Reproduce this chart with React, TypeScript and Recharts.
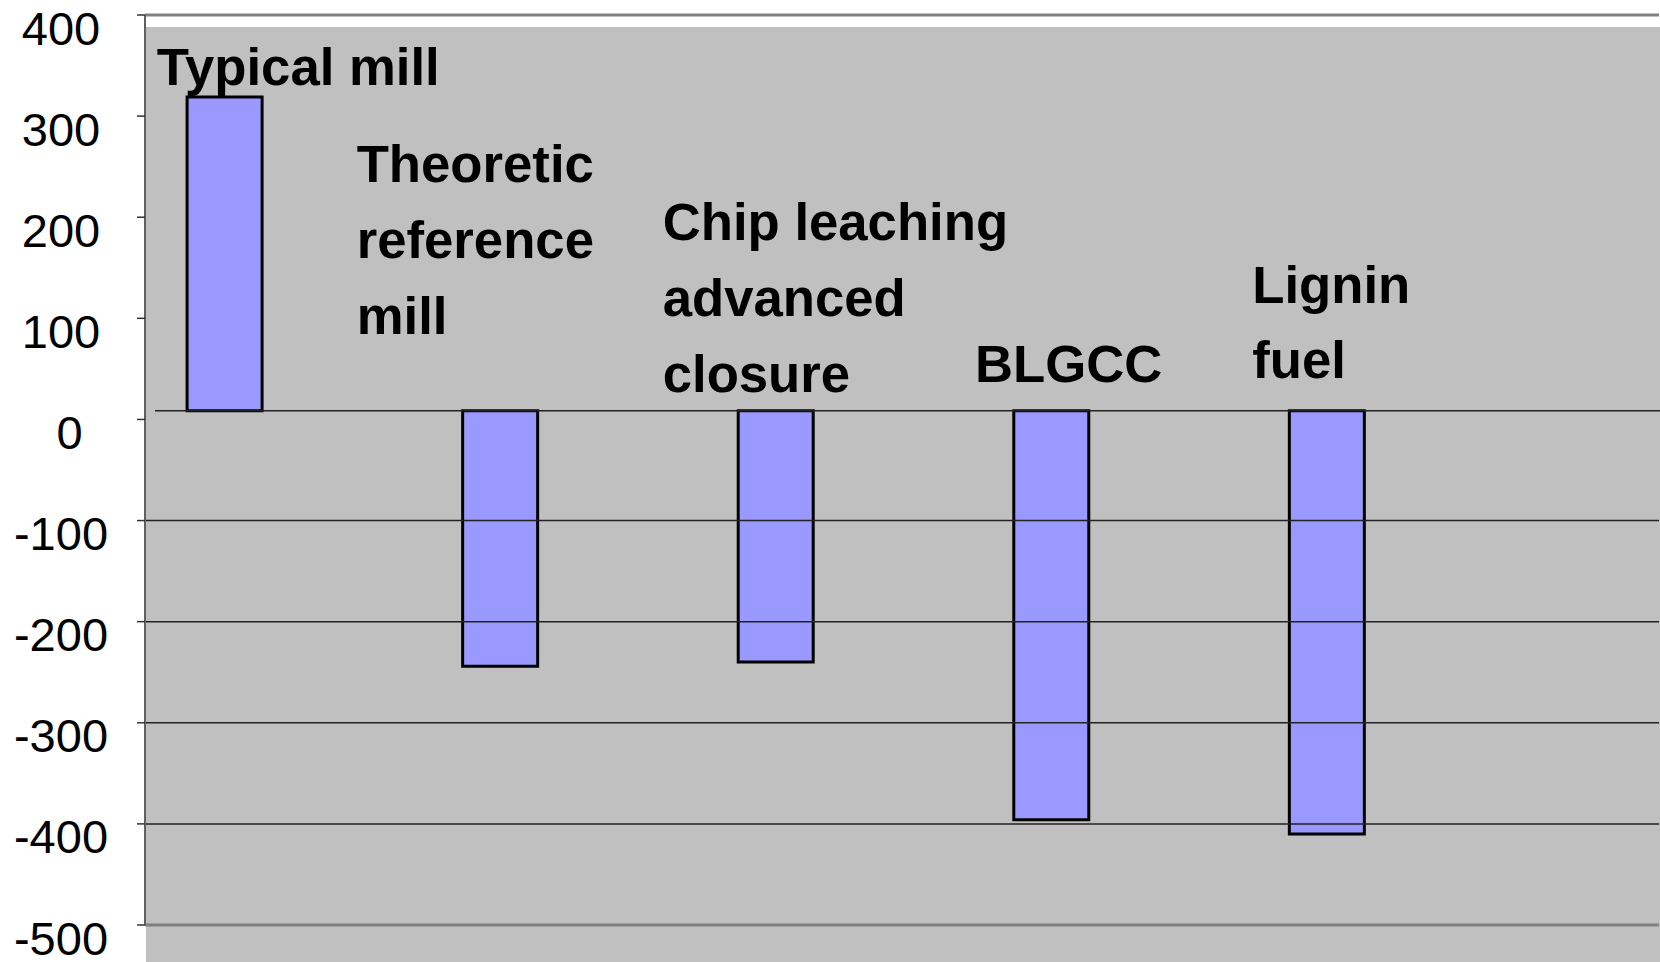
import React from 'react';
import { ComposedChart, Bar, XAxis, YAxis, ReferenceLine, LabelList } from 'recharts';

const CATEGORIES = ['Typical mill', 'Theoretic reference mill', 'Chip leaching advanced closure', 'BLGCC', 'Lignin fuel'];
const LABEL_LINES = [
  ['Typical mill'],
  ['Theoretic', 'reference', 'mill'],
  ['Chip leaching', 'advanced', 'closure'],
  ['BLGCC'],
  ['Lignin', 'fuel'],
];
const VALUES = [319, -244, -240, -396, -410];
const BAR_BASE = 8.6;
const Y_TICKS = [400, 300, 200, 100, 0, -100, -200, -300, -400, -500];
const GRID_VALUES = [-100, -200, -300, -400];

const LABEL_LAYOUT = [
  { x: 156.7, y: 85, lh: 76 },
  { x: 356.7, y: 181.7, lh: 76.2 },
  { x: 662.7, y: 240, lh: 76 },
  { x: 975, y: 381.7, lh: 76 },
  { x: 1252.3, y: 303.3, lh: 75 },
];

const data = CATEGORIES.map((name, i) => ({ name, value: VALUES[i] }));

const FONT = '"Liberation Sans", Arial, Helvetica, sans-serif';

const YTick = (props: any) => {
  const { y, payload } = props;
  const v = payload.value;
  return (
    <g>
      <line x1={137} x2={145} y1={y} y2={y} stroke="#333" strokeWidth={1.5} />
      <text
        x={v === 0 ? 69.5 : 61}
        y={y + 29.5}
        textAnchor="middle"
        fontSize={47}
        fontFamily={FONT}
        fill="#000"
      >
        {String(v)}
      </text>
    </g>
  );
};

const CategoryLabel = (props: any) => {
  const idx = CATEGORIES.indexOf(props.value);
  if (idx < 0) return null;
  const lay = LABEL_LAYOUT[idx];
  const lines = LABEL_LINES[idx];
  return (
    <text x={lay.x} y={lay.y} fontSize={52.7} fontWeight="bold" fontFamily={FONT} fill="#000">
      {lines.map((ln, k) => (
        <tspan key={k} x={lay.x} dy={k === 0 ? 0 : lay.lh}>
          {ln}
        </tspan>
      ))}
    </text>
  );
};

const ZeroLine = (p: any) => (
  <line x1={(p.x1 ?? 145) + 10} x2={1660} y1={p.y1} y2={p.y2} stroke="#222" strokeWidth={1.5} />
);

export default function App() {
  return (
    <div style={{ position: 'absolute', left: 0, top: 0, width: 1660, height: 962, background: '#fff', overflow: 'hidden' }}>
      <div style={{ position: 'absolute', left: 146, top: 27, width: 1514, height: 935, background: '#c0c0c0' }} />
      <div style={{ position: 'absolute', left: 0, top: 0 }}>
        <ComposedChart
          width={1660}
          height={962}
          data={data}
          margin={{ top: 15, right: 1, bottom: 37, left: 0 }}
        >
          <XAxis dataKey="name" hide padding={{ left: -57.9, right: 194.1 }} />
          <YAxis
            yAxisId="left"
            domain={[-500, 400]}
            ticks={Y_TICKS}
            interval={0}
            width={145}
            tickLine={false}
            axisLine={{ stroke: '#606060', strokeWidth: 2 }}
            tick={<YTick />}
          />
          <YAxis
            yAxisId="right"
            orientation="right"
            domain={[-500, 400]}
            width={0}
            tick={false}
            tickLine={false}
            axisLine={{ stroke: '#808080', strokeWidth: 3 }}
          />
          {GRID_VALUES.map((g) => (
            <ReferenceLine key={g} yAxisId="left" y={g} stroke="#222" strokeWidth={1.5} />
          ))}
          <ReferenceLine yAxisId="left" y={400} stroke="#808080" strokeWidth={3} />
          <ReferenceLine yAxisId="left" y={-500} stroke="#808080" strokeWidth={3} />
          <ReferenceLine yAxisId="left" y={BAR_BASE} shape={ZeroLine} />
          <Bar
            yAxisId="left"
            dataKey={(d: any) => [BAR_BASE, d.value]}
            barSize={75}
            fill="#9999ff"
            stroke="#000"
            strokeWidth={3}
            isAnimationActive={false}
          >
            <LabelList dataKey="name" content={<CategoryLabel />} />
          </Bar>
        </ComposedChart>
      </div>
    </div>
  );
}
